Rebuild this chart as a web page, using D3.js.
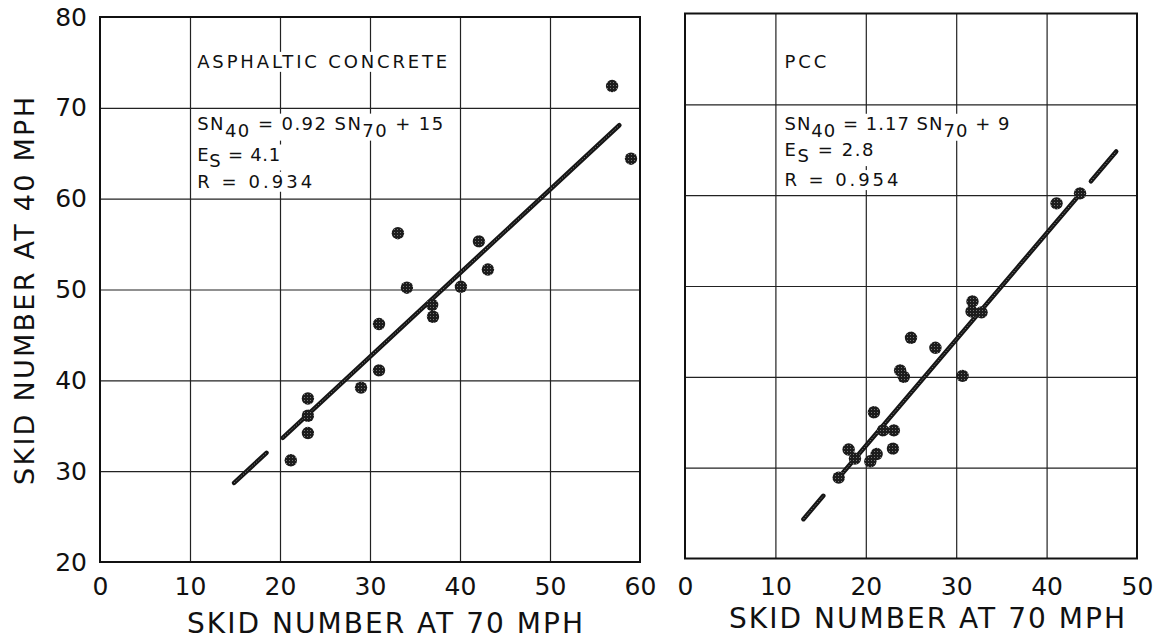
<!DOCTYPE html>
<html>
<head>
<meta charset="utf-8">
<script src="https://cdn.jsdelivr.net/npm/d3@7"></script>
<style>
  body { margin: 0; background: #fff; }
  svg { display: block; }
  text { font-family: "DejaVu Sans", sans-serif; fill: #111; }
</style>
</head>
<body>
<div id="chart"></div>
<script>
// Skid numbers measured at 70 mph (x) and 40 mph (y)
const asphaltSN70 = [21.2, 23.1, 23.1, 23.1, 29.0, 31.0, 31.0, 33.1, 34.1, 36.9, 37.0, 40.1, 42.1, 43.1, 56.9, 59.0];
const asphaltSN40 = [31.2, 38.0, 36.1, 34.2, 39.2, 41.1, 46.2, 56.2, 50.2, 48.3, 47.0, 50.3, 55.3, 52.2, 72.4, 64.4];

const pccSN70 = [17.0, 18.1, 18.8, 20.5, 21.2, 20.9, 21.9, 23.1, 23.0, 23.8, 24.2, 25.0, 27.7, 30.7, 31.8, 31.7, 32.8, 41.1, 43.7];
const pccSN40 = [28.9, 32.0, 31.0, 30.7, 31.5, 36.1, 34.1, 34.1, 32.1, 40.7, 40.0, 44.3, 43.2, 40.1, 48.3, 47.2, 47.1, 59.1, 60.2];

// Regression fits and the SN70 ranges where the fitted line is drawn
const asphaltFit = { slope: 0.92, intercept: 15 };
const asphaltFitSegments = [[14.9, 18.5], [20.3, 57.7]];
const pccFit = { slope: 1.17, intercept: 9 };
const pccFitSegments = [[13.1, 15.3], [17.0, 43.7], [44.9, 47.7]];

// Tick values
const asphaltTicksX = [0, 10, 20, 30, 40, 50, 60];
const pccTicksX = [0, 10, 20, 30, 40, 50];
const ticksY = [20, 30, 40, 50, 60, 70, 80];

// Annotation text
const asphaltStats = { title: "ASPHALTIC CONCRETE", coef: "0.92", constant: "15", es: "4.1", r: "0.934" };
const pccStats = { title: "PCC", coef: "1.17", constant: "9", es: "2.8", r: "0.954" };

const width = 1158, height = 639;

const svg = d3.select("#chart")
    .append("svg")
    .attr("width", width)
    .attr("height", height);

svg.append("rect")
    .attr("width", width)
    .attr("height", height)
    .attr("fill", "#fff");

// Draw one scatter panel
function drawPanel(cfg) {
    const x = d3.scaleLinear().domain([0, cfg.xMax]).range([cfg.left, cfg.right]);
    const y = d3.scaleLinear().domain([20, 80]).range([cfg.bottom, cfg.top]);

    const g = svg.append("g");

    // Grid lines
    g.append("g")
        .attr("transform", "translate(0," + cfg.bottom + ")")
        .call(d3.axisBottom(x).tickValues(cfg.ticksX.slice(1, -1)).tickSize(-(cfg.bottom - cfg.top)).tickFormat(""))
        .call(a => a.select(".domain").remove())
        .selectAll("line")
        .attr("stroke", "#222")
        .attr("stroke-width", 1.2);

    g.append("g")
        .attr("transform", "translate(" + cfg.left + ",0)")
        .call(d3.axisLeft(y).tickValues(ticksY.slice(1, -1)).tickSize(-(cfg.right - cfg.left)).tickFormat(""))
        .call(a => a.select(".domain").remove())
        .selectAll("line")
        .attr("stroke", "#222")
        .attr("stroke-width", 1.2);

    // Frame
    g.append("rect")
        .attr("x", cfg.left)
        .attr("y", cfg.top)
        .attr("width", cfg.right - cfg.left)
        .attr("height", cfg.bottom - cfg.top)
        .attr("fill", "none")
        .attr("stroke", "#111")
        .attr("stroke-width", 2);

    // X tick labels
    g.append("g")
        .attr("transform", "translate(0," + cfg.bottom + ")")
        .call(d3.axisBottom(x).tickValues(cfg.ticksX).tickSize(0).tickPadding(cfg.xLabelPad).tickFormat(d3.format("d")))
        .call(a => a.select(".domain").remove())
        .selectAll("text")
        .style("font-size", "25px")
        .attr("fill", "#111");

    // Y tick labels (left panel only)
    if (cfg.showY) {
        g.append("g")
            .attr("transform", "translate(" + cfg.left + ",0)")
            .call(d3.axisLeft(y).tickValues(ticksY).tickSize(0).tickPadding(13).tickFormat(d3.format("d")))
            .call(a => a.select(".domain").remove())
            .selectAll("text")
            .style("font-size", "25px")
            .attr("fill", "#111");
    }

    // Annotation block, each line on a white patch
    const note = g.append("g");
    const nx = x(cfg.noteX);
    const lines = [];

    lines.push(note.append("text")
        .attr("x", nx).attr("y", y(cfg.noteY[0]))
        .attr("textLength", cfg.noteLen[0]).attr("lengthAdjust", "spacing")
        .style("font-size", "18px")
        .text(cfg.stats.title));

    const eq = note.append("text")
        .attr("x", nx).attr("y", y(cfg.noteY[1]))
        .attr("textLength", cfg.noteLen[1]).attr("lengthAdjust", "spacing")
        .style("font-size", "18px");
    eq.append("tspan").text("SN");
    eq.append("tspan").attr("dy", 7).text("40");
    eq.append("tspan").attr("dy", -7).text(" = " + cfg.stats.coef + "  SN");
    eq.append("tspan").attr("dy", 7).text("70");
    eq.append("tspan").attr("dy", -7).text(" + " + cfg.stats.constant);
    lines.push(eq);

    const es = note.append("text")
        .attr("x", nx).attr("y", y(cfg.noteY[2]))
        .attr("textLength", cfg.noteLen[2]).attr("lengthAdjust", "spacing")
        .style("font-size", "18px");
    es.append("tspan").text("E");
    es.append("tspan").attr("dy", 6).text("S");
    es.append("tspan").attr("dy", -6).text(" = " + cfg.stats.es);
    lines.push(es);

    lines.push(note.append("text")
        .attr("x", nx).attr("y", y(cfg.noteY[3]))
        .attr("textLength", cfg.noteLen[3]).attr("lengthAdjust", "spacing")
        .style("font-size", "18px")
        .text("R  =  " + cfg.stats.r));

    lines.forEach(t => {
        const b = t.node().getBBox();
        note.insert("rect", "text")
            .attr("x", b.x - 2)
            .attr("y", b.y + 1)
            .attr("width", b.width + 4)
            .attr("height", b.height - 1)
            .attr("fill", "#fff");
    });

    // Fitted line, drawn in pieces
    const fitLine = d3.line()
        .x(d => x(d))
        .y(d => y(cfg.fit.slope * d + cfg.fit.intercept));

    g.selectAll(".fit-outer")
        .data(cfg.segments)
        .enter()
        .append("path")
        .attr("class", "fit-outer")
        .attr("d", d => fitLine(d))
        .attr("fill", "none")
        .attr("stroke", "#151515")
        .attr("stroke-width", 4.5)
        .attr("stroke-linecap", "round");

    g.selectAll(".fit-inner")
        .data(cfg.segments)
        .enter()
        .append("path")
        .attr("class", "fit-inner")
        .attr("d", d => fitLine(d))
        .attr("fill", "none")
        .attr("stroke", "#7a7a7a")
        .attr("stroke-width", 1)
        .attr("stroke-dasharray", "1.5,1.5");

    // Data points
    g.selectAll(".pt")
        .data(cfg.xs.map((v, i) => [v, cfg.ys[i]]))
        .enter()
        .append("circle")
        .attr("class", "pt")
        .attr("cx", d => x(d[0]))
        .attr("cy", d => y(d[1]))
        .attr("r", 6.2)
        .attr("fill", "url(#dots)");

    // X axis title
    g.append("text")
        .attr("x", (cfg.left + cfg.right) / 2 + cfg.titleShift)
        .attr("y", cfg.titleY)
        .attr("text-anchor", "middle")
        .attr("textLength", 396)
        .attr("lengthAdjust", "spacing")
        .style("font-size", "28px")
        .text("SKID NUMBER AT 70 MPH");
}

// Stippled fill for the point markers
const pat = svg.append("defs").append("pattern")
    .attr("id", "dots")
    .attr("patternUnits", "userSpaceOnUse")
    .attr("width", 3)
    .attr("height", 3);
pat.append("rect").attr("width", 3).attr("height", 3).attr("fill", "#1c1c1c");
pat.append("rect").attr("x", 1).attr("y", 1).attr("width", 1).attr("height", 1).attr("fill", "#777");

drawPanel({
    left: 100, right: 640, top: 17, bottom: 562, xMax: 60,
    ticksX: asphaltTicksX, xLabelPad: 15, showY: true,
    xs: asphaltSN70, ys: asphaltSN40,
    fit: asphaltFit, segments: asphaltFitSegments,
    stats: asphaltStats,
    noteX: 10.8, noteY: [74.4, 67.6, 64.2, 61.2], noteLen: [250, 246, 83, 115],
    titleY: 633, titleShift: 15
});

drawPanel({
    left: 685, right: 1137, top: 13.5, bottom: 558.5, xMax: 50,
    ticksX: pccTicksX, xLabelPad: 19, showY: false,
    xs: pccSN70, ys: pccSN40,
    fit: pccFit, segments: pccFitSegments,
    stats: pccStats,
    noteX: 11, noteY: [74.0, 67.2, 64.3, 61.0], noteLen: [42, 225, 89, 114],
    titleY: 628, titleShift: 16
});

// Shared y axis title
svg.append("text")
    .attr("transform", "translate(34,291) rotate(-90)")
    .attr("text-anchor", "middle")
    .attr("textLength", 388)
    .attr("lengthAdjust", "spacing")
    .style("font-size", "27px")
    .text("SKID NUMBER AT 40 MPH");
</script>
</body>
</html>
